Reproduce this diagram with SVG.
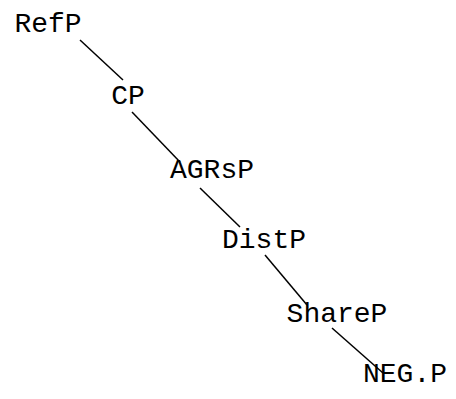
<svg xmlns="http://www.w3.org/2000/svg" width="456" height="399" viewBox="0 0 456 399">
<style>
text{font-family:"Liberation Mono","Courier New",monospace;font-size:28px;fill:#000;text-anchor:middle}
line{stroke:#000;stroke-width:1.5}
</style>
<rect width="456" height="399" fill="#fff"/>
<g id="connectors">
<line x1="80" y1="40" x2="123" y2="80"/>
<line x1="132" y1="112" x2="180" y2="162"/>
<line x1="200" y1="188" x2="240" y2="227"/>
<line x1="265" y1="255" x2="307" y2="305"/>
<line x1="332" y1="328" x2="383" y2="373"/>
</g>
<g id="RefP"><text x="48" y="32">RefP</text></g>
<g id="CP"><text x="128" y="104">CP</text></g>
<g id="AGRsP"><text x="212" y="178">AGRsP</text></g>
<g id="DistP"><text x="264" y="248">DistP</text></g>
<g id="ShareP"><text x="337" y="322">ShareP</text></g>
<g id="NEGP"><text x="405" y="382">NEG.P</text></g>
</svg>
